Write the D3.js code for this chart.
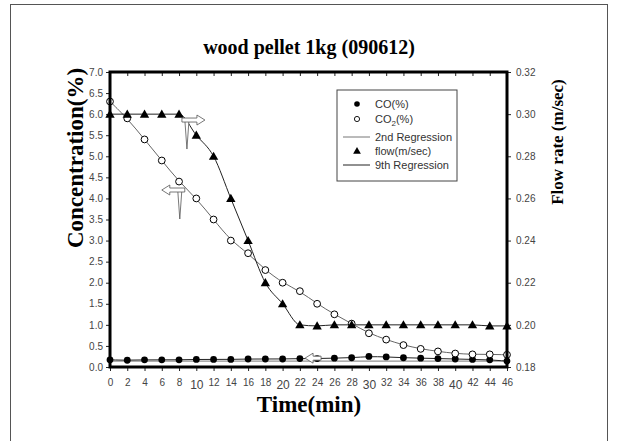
<!DOCTYPE html>
<html>
<head>
<meta charset="utf-8">
<script src="https://cdn.jsdelivr.net/npm/d3@7"></script>
<style>
  body { margin: 0; background: #fff; }
  svg { display: block; }
</style>
</head>
<body>
<div id="chart"></div>
<script>
// sampling times (min)
const times = [0, 2, 4, 6, 8, 10, 12, 14, 16, 18, 20, 22, 24, 26, 28, 30, 32, 34, 36, 38, 40, 42, 44, 46];
// CO (%) - filled circles, left axis
const coValues = [0.17, 0.16, 0.17, 0.17, 0.17, 0.18, 0.18, 0.18, 0.19, 0.19, 0.19, 0.20,
                  0.20, 0.21, 0.22, 0.25, 0.24, 0.22, 0.21, 0.20, 0.19, 0.18, 0.17, 0.14];
// CO2 (%) - open circles, left axis
const co2Values = [6.3, 5.9, 5.4, 4.9, 4.4, 4.0, 3.5, 3.0, 2.7, 2.3, 2.0, 1.8,
                   1.5, 1.25, 1.03, 0.8, 0.65, 0.52, 0.43, 0.37, 0.32, 0.30, 0.30, 0.29];
// flow (m/sec) - triangles, right axis
const flowValues = [0.300, 0.300, 0.300, 0.300, 0.300, 0.290, 0.280, 0.260, 0.240, 0.220, 0.210, 0.200,
                    0.1995, 0.200, 0.200, 0.200, 0.200, 0.200, 0.200, 0.200, 0.200, 0.200, 0.1995, 0.1995];
// flat CO fit
const coFitTimes = [0, 46];
const coFitValues = [0.14, 0.14];

const leftTicks = [0, 0.5, 1, 1.5, 2, 2.5, 3, 3.5, 4, 4.5, 5, 5.5, 6, 6.5, 7];
const rightTicks = [0.18, 0.20, 0.22, 0.24, 0.26, 0.28, 0.30, 0.32];
const legendLabels = ['CO(%)', 'CO2(%)', '2nd Regression', 'flow(m/sec)', '9th Regression'];
// annotation arrows: tip position in data units (left axis), direction
const arrowTimes = [11.0, 6.0, 22.6];
const arrowValues = [5.86, 4.2, 0.21];
const arrowDirs = [1, -1, -1];
const arrowTails = [true, true, false];

const width = 618, height = 441;
const plot = { left: 110, right: 507, top: 72, bottom: 367 };
const serif = '"Liberation Serif", "Times New Roman", serif';
const sans = '"Liberation Sans", Arial, sans-serif';

const svg = d3.select('#chart').append('svg')
    .attr('width', width)
    .attr('height', height);

// outer frame
svg.append('rect')
    .attr('x', 10.5).attr('y', 4.5)
    .attr('width', 597).attr('height', 460)
    .attr('fill', 'none')
    .attr('stroke', '#555')
    .attr('stroke-width', 1);

const x = d3.scaleLinear().domain([0, 46]).range([plot.left, plot.right]);
const yL = d3.scaleLinear().domain([0, 7]).range([plot.bottom, plot.top]);
const yR = d3.scaleLinear().domain([0.18, 0.32]).range([plot.bottom, plot.top]);

// title
svg.append('text')
    .attr('x', 309).attr('y', 54)
    .attr('text-anchor', 'middle')
    .style('font-family', serif)
    .style('font-weight', 'bold')
    .style('font-size', '20px')
    .text('wood pellet 1kg (090612)');

// axes
const styleAxis = g => {
    g.select('.domain').remove();
    g.selectAll('.tick line').attr('stroke', '#222');
    g.selectAll('.tick text')
        .attr('fill', '#444')
        .style('font-family', sans)
        .style('font-size', '10px');
};

svg.append('g')
    .attr('transform', `translate(${plot.left},0)`)
    .call(d3.axisLeft(yL).tickValues(leftTicks).tickFormat(d3.format('.1f')).tickSize(4).tickPadding(3))
    .call(styleAxis);

svg.append('g')
    .attr('transform', `translate(${plot.right},0)`)
    .call(d3.axisRight(yR).tickValues(rightTicks).tickFormat(d3.format('.2f')).tickSize(4).tickPadding(5))
    .call(styleAxis);

// multiples of ten print a little larger, as in the source figure
const bigTick = d => d > 0 && d % 10 === 0;
svg.append('g')
    .attr('transform', `translate(0,${plot.bottom})`)
    .call(d3.axisBottom(x).tickValues(times).tickSize(4).tickPadding(8))
    .call(styleAxis)
    .call(g => g.selectAll('.tick text')
        .style('font-size', d => bigTick(d) ? '12px' : '10px')
        .attr('dy', d => bigTick(d) ? '0.82em' : '0.71em'));

svg.append('g')
    .attr('transform', `translate(0,${plot.top})`)
    .call(d3.axisTop(x).tickValues(times).tickSize(-4).tickFormat(''))
    .call(styleAxis);

// axis titles
svg.append('text')
    .attr('transform', 'translate(83,158) rotate(-90)')
    .attr('text-anchor', 'middle')
    .style('font-family', serif)
    .style('font-weight', 'bold')
    .style('font-size', '23px')
    .text('Concentration(%)');

svg.append('text')
    .attr('transform', 'translate(563,142) rotate(-90)')
    .attr('text-anchor', 'middle')
    .style('font-family', serif)
    .style('font-weight', 'bold')
    .style('font-size', '17px')
    .text('Flow rate (m/sec)');

svg.append('text')
    .attr('x', 309).attr('y', 412)
    .attr('text-anchor', 'middle')
    .style('font-family', serif)
    .style('font-weight', 'bold')
    .style('font-size', '23px')
    .text('Time(min)');

// regression lines
const co2Line = d3.line()
    .x((d, i) => x(times[i]))
    .y(d => yL(d))
    .curve(d3.curveBasis);

const flowLine = d3.line()
    .x((d, i) => x(times[i]))
    .y(d => yR(d))
    .curve(d3.curveMonotoneX);

const coLine = d3.line()
    .x((d, i) => x(times[i]))
    .y(d => yL(d))
    .curve(d3.curveBasis);

svg.append('path')
    .attr('d', d3.line().x((d, i) => x(coFitTimes[i])).y(d => yL(d))(coFitValues))
    .attr('fill', 'none').attr('stroke', '#777').attr('stroke-width', 1);

svg.append('path')
    .attr('d', coLine(coValues))
    .attr('fill', 'none').attr('stroke', '#222').attr('stroke-width', 1);

svg.append('path')
    .attr('d', co2Line(co2Values))
    .attr('fill', 'none').attr('stroke', '#666').attr('stroke-width', 1);

svg.append('path')
    .attr('d', flowLine(flowValues))
    .attr('fill', 'none').attr('stroke', '#222').attr('stroke-width', 1);

// markers
svg.append('g').selectAll('circle')
    .data(coValues).join('circle')
    .attr('cx', (d, i) => x(times[i]))
    .attr('cy', d => yL(d))
    .attr('r', 3.4)
    .attr('fill', '#000');

svg.append('g').selectAll('circle')
    .data(co2Values).join('circle')
    .attr('cx', (d, i) => x(times[i]))
    .attr('cy', d => yL(d))
    .attr('r', 3.4)
    .attr('fill', '#fff')
    .attr('stroke', '#000')
    .attr('stroke-width', 1);

const tri = d3.symbol().type(d3.symbolTriangle).size(38);
svg.append('g').selectAll('path')
    .data(flowValues).join('path')
    .attr('transform', (d, i) => `translate(${x(times[i])},${yR(d) + 0.8})`)
    .attr('d', tri)
    .attr('fill', '#000');

// annotation arrows
const arrowG = svg.append('g')
    .attr('fill', '#fff')
    .attr('stroke', '#555')
    .attr('stroke-width', 0.8);

arrowTimes.forEach((t, i) => {
    const px = x(t), py = yL(arrowValues[i]);
    const s = arrowDirs[i];
    const len = arrowTails[i] ? 23 : 16;
    const g = arrowG.append('g').attr('transform', `translate(${px},${py}) scale(${s},1)`);
    if (arrowTails[i]) {
        g.append('path').attr('d', `M${-len + 3},1 L${-len + 5},29 L${-len + 7},1 Z`);
    }
    g.append('path')
        .attr('d', `M0,0 L-8,-5 L-8,-2 L${-len},-2 L${-len},2 L-8,2 L-8,5 Z`);
});

// frame
svg.append('rect')
    .attr('x', plot.left).attr('y', plot.top)
    .attr('width', plot.right - plot.left)
    .attr('height', plot.bottom - plot.top)
    .attr('fill', 'none')
    .attr('stroke', '#000')
    .attr('stroke-width', 3);

// legend
const legend = svg.append('g').attr('transform', 'translate(337,90)');
legend.append('rect')
    .attr('width', 120).attr('height', 91)
    .attr('fill', '#fff')
    .attr('stroke', '#444')
    .attr('stroke-width', 1);

const rowY = [14, 29, 47, 61, 75];
legendLabels.forEach((label, i) => {
    const row = legend.append('g').attr('transform', `translate(0,${rowY[i]})`);
    if (i === 0) {
        row.append('circle').attr('cx', 20).attr('cy', 0).attr('r', 2.8).attr('fill', '#000');
    } else if (i === 1) {
        row.append('circle').attr('cx', 20).attr('cy', 0).attr('r', 2.6)
            .attr('fill', '#fff').attr('stroke', '#000').attr('stroke-width', 0.9);
    } else if (i === 3) {
        row.append('path').attr('transform', 'translate(20,0.5)')
            .attr('d', d3.symbol().type(d3.symbolTriangle).size(26)).attr('fill', '#000');
    } else {
        row.append('line').attr('x1', 6).attr('x2', 33).attr('y1', 0).attr('y2', 0)
            .attr('stroke', i === 2 ? '#777' : '#222').attr('stroke-width', 1);
    }
    const txt = row.append('text')
        .attr('x', 38).attr('y', 4)
        .attr('fill', '#333')
        .style('font-family', sans)
        .style('font-size', '11px');
    if (label === 'CO2(%)') {
        txt.append('tspan').text('CO');
        txt.append('tspan').attr('dy', 3).style('font-size', '8px').text('2');
        txt.append('tspan').attr('dy', -3).text('(%)');
    } else {
        txt.text(label);
    }
});
</script>
</body>
</html>
